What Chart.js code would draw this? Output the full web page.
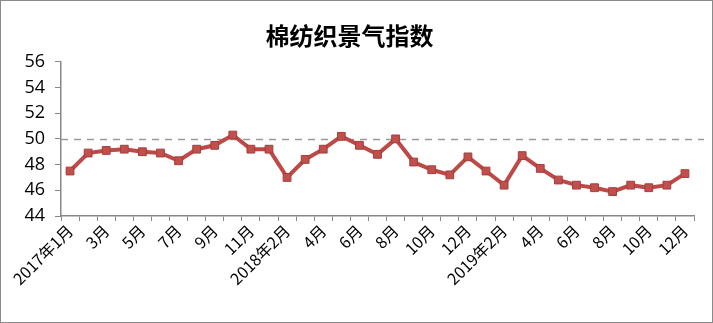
<!DOCTYPE html>
<html>
<head>
<meta charset="utf-8">
<script src="https://cdn.jsdelivr.net/npm/chart.js@4.4.1/dist/chart.umd.min.js"></script>
<style>
  html, body { margin: 0; padding: 0; background: #fff; }
  #wrap { width: 713px; height: 323px; box-sizing: border-box; border: 1px solid #8a8a8a; }
  canvas { display: block; }
</style>
</head>
<body>
<div id="wrap"><canvas id="c" width="711" height="321"></canvas></div>
<script>
const months = [
  '2017年1月', '2月', '3月', '4月', '5月', '6月', '7月', '8月', '9月', '10月', '11月', '12月',
  '2018年2月', '3月', '4月', '5月', '6月', '7月', '8月', '9月', '10月', '11月', '12月',
  '2019年1月', '2019年2月', '3月', '4月', '5月', '6月', '7月', '8月', '9月', '10月', '11月', '12月'
];
const indexValues = [
  47.5, 48.9, 49.1, 49.2, 49.0, 48.9, 48.3, 49.2, 49.5, 50.3, 49.2, 49.2,
  47.0, 48.4, 49.2, 50.2, 49.5, 48.8, 50.0, 48.2, 47.6, 47.2, 48.6,
  47.5, 46.4, 48.7, 47.7, 46.8, 46.4, 46.2, 45.9, 46.4, 46.2, 46.4, 47.3
];
const yTicks = [44, 46, 48, 50, 52, 54, 56];
const refLevel = 50;

const cjk = '"Noto Sans CJK SC", "Noto Sans", sans-serif';

// dashed line at the 50 boom/bust level
const refLine = {
  id: 'refLine',
  beforeDatasetsDraw(chart) {
    const {ctx, chartArea, scales} = chart;
    const y = Math.round(scales.y.getPixelForValue(refLevel)) + 0.5;
    ctx.save();
    ctx.strokeStyle = '#9a9a9a';
    ctx.lineWidth = 1.5;
    ctx.setLineDash([7, 6]);
    ctx.beginPath();
    ctx.moveTo(chartArea.left, y);
    ctx.lineTo(chartArea.right + 10, y);
    ctx.stroke();
    ctx.restore();
  }
};

new Chart(document.getElementById('c'), {
  type: 'line',
  data: {
    labels: months,
    datasets: [{
      data: indexValues,
      borderColor: '#be4a47',
      borderWidth: 4,
      pointStyle: 'rect',
      pointRadius: 5.5,
      pointBackgroundColor: '#c24f4c',
      pointBorderColor: '#a23f3c',
      pointBorderWidth: 1,
      tension: 0
    }]
  },
  options: {
    responsive: false,
    animation: false,
    layout: { padding: { left: 4, right: 18, top: 0, bottom: 0 } },
    plugins: {
      legend: { display: false },
      tooltip: { enabled: false },
      title: {
        display: true,
        text: '棉纺织景气指数',
        color: '#000',
        font: { family: cjk, size: 24, weight: 'bold' },
        padding: { top: 20, bottom: 12 }
      }
    },
    scales: {
      x: {
        offset: true,
        afterFit(s) { s.height = 106; },
        grid: { offset: true, drawOnChartArea: false, drawTicks: true, tickLength: 5, color: '#888' },
        border: { display: true, color: '#888', width: 1.5 },
        ticks: {
          autoSkip: false,
          minRotation: 45,
          maxRotation: 45,
          padding: 0,
          color: '#000',
          font: { family: cjk, size: 16 },
          callback(v, i) { return i % 2 === 0 ? months[i] : ''; }
        }
      },
      y: {
        min: 44,
        max: 56,
        afterFit(s) { s.width = 56; },
        afterBuildTicks(s) { s.ticks = yTicks.map(v => ({ value: v })); },
        grid: { drawOnChartArea: false, drawTicks: true, tickLength: 6, color: '#888' },
        border: { display: true, color: '#888', width: 1.5 },
        ticks: {
          padding: 10,
          color: '#000',
          font: { family: '"Open Sans", sans-serif', size: 18 }
        }
      }
    }
  },
  plugins: [refLine]
});
</script>
</body>
</html>
